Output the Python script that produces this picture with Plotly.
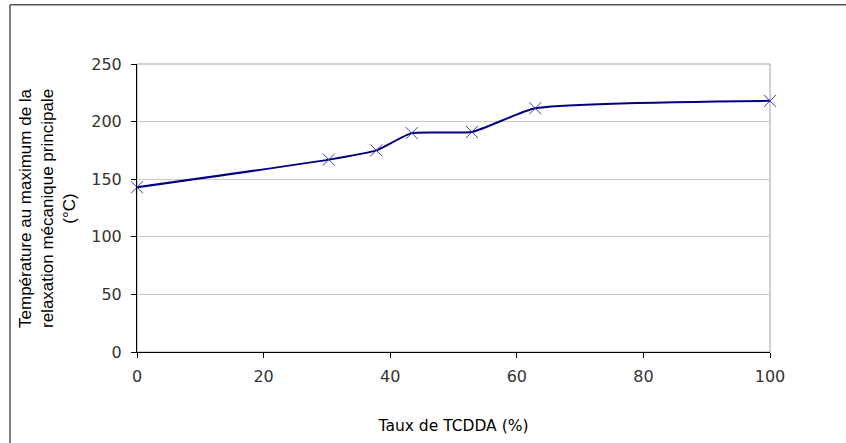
import plotly.graph_objects as go

taux = [0, 30.3, 37.8, 43.4, 52.9, 62.9, 100]
temperature = [143, 167, 175, 190, 191, 211.5, 218]

x_ticks = [0, 20, 40, 60, 80, 100]
y_ticks = [0, 50, 100, 150, 200, 250]

W, H = 846, 443
L, R, T, B = 137, 76, 64, 87
pw, ph = W - L - R, H - T - B

fig = go.Figure()
fig.add_trace(go.Scatter(
    x=taux, y=temperature, mode="lines+markers",
    line=dict(color="#000080", width=2, shape="spline", smoothing=0.5),
    marker=dict(symbol="x-thin-open", size=12, color="#3b3ba8",
                line=dict(color="#3b3ba8", width=1)),
    showlegend=False, cliponaxis=False,
))

fig.update_layout(
    width=W, height=H,
    margin=dict(l=L, r=R, t=T, b=B),
    paper_bgcolor="white", plot_bgcolor="white",
    font=dict(family="DejaVu Sans", color="#222222"),
    xaxis=dict(range=[0, 100], tickvals=x_ticks, showgrid=False, zeroline=False,
               showline=True, linecolor="black", linewidth=1,
               ticks="outside", ticklen=5, tickcolor="black",
               tickfont=dict(size=16, color="#333333"), ticklabelstandoff=5,
               title=dict(text="Taux de TCDDA (%)", font=dict(size=15.5, color="black"),
                          standoff=34)),
    yaxis=dict(range=[0, 250], tickvals=y_ticks, showgrid=True, gridcolor="#c8c8c8",
               gridwidth=1, zeroline=False,
               showline=True, linecolor="black", linewidth=1,
               ticks="outside", ticklen=5, tickcolor="black",
               tickfont=dict(size=16, color="#333333"), ticklabelstandoff=6),
)

# plot-area border (gray top/right)
fig.add_shape(type="rect", xref="paper", yref="paper", x0=0, x1=1, y0=0, y1=1,
              line=dict(color="#a0a0a0", width=1), layer="below")
# outer chart frame (top-left visible, right/bottom outside the image)
fig.add_shape(type="rect", xref="paper", yref="paper",
              x0=(10 - L) / pw, x1=(W + 20 - L) / pw,
              y0=-(B + 20) / ph, y1=1 + (T - 4) / ph,
              line=dict(color="black", width=1))

fig.add_annotation(
    text="Température au maximum de la<br>relaxation mécanique principale<br>(°C)",
    xref="paper", yref="paper", x=(47 - L) / pw, y=0.5,
    xanchor="center", yanchor="middle", textangle=-90, showarrow=False,
    font=dict(family="Liberation Sans", size=17, color="black"),
)

fig.write_html("out.html", config={"displayModeBar": False},
               post_script="document.body.style.margin='0';")
